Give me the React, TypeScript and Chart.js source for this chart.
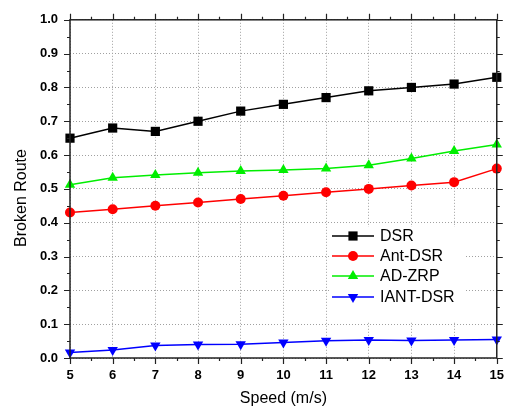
import React, { useEffect, useRef } from "react";
import { Chart, registerables } from "chart.js";

Chart.register(...registerables);

const speeds = [5, 6, 7, 8, 9, 10, 11, 12, 13, 14, 15];
const dsr = [0.65, 0.68, 0.67, 0.70, 0.73, 0.75, 0.77, 0.79, 0.80, 0.81, 0.83];
const antDsr = [0.43, 0.44, 0.45, 0.46, 0.47, 0.48, 0.49, 0.50, 0.51, 0.52, 0.56];
const adZrp = [0.512, 0.533, 0.541, 0.548, 0.553, 0.556, 0.560, 0.570, 0.590, 0.612, 0.631];
const iantDsr = [0.016, 0.024, 0.037, 0.040, 0.041, 0.046, 0.051, 0.053, 0.052, 0.053, 0.055];
const seriesNames = ["DSR", "Ant-DSR", "AD-ZRP", "IANT-DSR"];
const xTitle = "Speed (m/s)";
const yTitle = "Broken Route";

const FONT = "'Liberation Sans', Arial, sans-serif";

const colors = ["#000000", "#ff0000", "#00ee00", "#0000ff"];
const pointStyles = ["rect", "circle", "triangle", "triangle"];
const rotations = [0, 0, 0, 180];
const radii = [6.5, 5, 6, 6];

function marker(ctx: CanvasRenderingContext2D, i: number, x: number, y: number) {
  const r = radii[i];
  ctx.beginPath();
  if (pointStyles[i] === "rect") {
    const s = r * Math.SQRT1_2;
    ctx.rect(x - s, y - s, 2 * s, 2 * s);
  } else if (pointStyles[i] === "circle") {
    ctx.arc(x, y, r, 0, Math.PI * 2);
  } else {
    const dir = rotations[i] === 180 ? -1 : 1;
    const h = r * 0.5;
    const w = r * Math.sqrt(3) / 2;
    ctx.moveTo(x, y - dir * r);
    ctx.lineTo(x + w, y + dir * h);
    ctx.lineTo(x - w, y + dir * h);
    ctx.closePath();
  }
  ctx.fill();
}

const framePlugin = {
  id: "frame",
  afterDraw(chart: any) {
    const ctx = chart.ctx;
    const { left, right, top, bottom } = chart.chartArea;
    const xs = chart.scales.x;
    const ys = chart.scales.y;
    ctx.save();
    ctx.strokeStyle = "#222";
    ctx.lineWidth = 1.5;
    ctx.strokeRect(left, top, right - left, bottom - top);
    ctx.lineWidth = 1.2;
    ctx.beginPath();
    for (let k = 0; k <= 20; k++) {
      const v = 5 + k * 0.5;
      const px = Math.round(xs.getPixelForValue(v)) + 0.5;
      const len = k % 2 === 0 ? 6 : 3;
      ctx.moveTo(px, bottom);
      ctx.lineTo(px, bottom + len);
      ctx.moveTo(px, top);
      ctx.lineTo(px, top - len);
    }
    for (let i = 0; i <= 20; i++) {
      const v = i * 0.05;
      const py = Math.round(ys.getPixelForValue(v)) + 0.5;
      const len = i % 2 === 0 ? 6 : 3;
      ctx.moveTo(left, py);
      ctx.lineTo(left - len, py);
      ctx.moveTo(right, py);
      ctx.lineTo(right + len, py);
    }
    ctx.stroke();

    ctx.fillStyle = "#000";
    ctx.font = `16px ${FONT}`;
    ctx.textAlign = "center";
    ctx.textBaseline = "middle";
    ctx.fillText(xTitle, (left + right) / 2, 399);
    ctx.save();
    ctx.translate(22, 198);
    ctx.rotate(-Math.PI / 2);
    ctx.fillText(yTitle, 0, 0);
    ctx.restore();

    const bx = 330, by = 227, bw = 135, bh = 94;
    ctx.fillStyle = "#fff";
    ctx.fillRect(bx, by, bw, bh);
    const rowsY = [236, 256, 276, 297];
    chart.data.datasets.forEach((ds: any, i: number) => {
      const y = rowsY[i];
      ctx.strokeStyle = colors[i];
      ctx.lineWidth = 1.5;
      ctx.beginPath();
      ctx.moveTo(332, y);
      ctx.lineTo(374, y);
      ctx.stroke();
      ctx.fillStyle = colors[i];
      marker(ctx, i, 353, y);
      ctx.fillStyle = "#000";
      ctx.font = `16px ${FONT}`;
      ctx.textAlign = "left";
      ctx.textBaseline = "middle";
      ctx.fillText(ds.label, 380, y + 1);
    });
    ctx.restore();
  },
};

export default function App() {
  const ref = useRef<HTMLCanvasElement>(null);
  useEffect(() => {
    if (!ref.current) return;
    const all = [dsr, antDsr, adZrp, iantDsr];
    const chart = new Chart(ref.current, {
      type: "line",
      data: {
        datasets: all.map((vals, i) => ({
          label: seriesNames[i],
          data: speeds.map((s, j) => ({ x: s, y: vals[j] })),
          borderColor: colors[i],
          backgroundColor: colors[i],
          borderWidth: 1.5,
          pointStyle: pointStyles[i] as any,
          pointRotation: rotations[i],
          pointRadius: radii[i],
          pointBorderWidth: 0,
          pointBackgroundColor: colors[i],
          tension: 0,
          clip: false as any,
        })),
      },
      options: {
        responsive: false,
        animation: false,
        devicePixelRatio: 1,
        layout: { padding: { top: 16, right: 12, left: 0, bottom: 0 } },
        plugins: { legend: { display: false }, tooltip: { enabled: false } },
        scales: {
          x: {
            type: "linear",
            min: 5,
            max: 15,
            ticks: {
              stepSize: 1,
              padding: 10,
              color: "#000",
              font: { family: FONT, size: 13, weight: "bold" },
            },
            grid: { color: "#a0a0a0", lineWidth: 1, drawTicks: false },
            border: { display: false, dash: [1, 2] },
            afterFit: (s: any) => { s.height = 54; },
          },
          y: {
            min: 0,
            max: 1,
            ticks: {
              stepSize: 0.1,
              padding: 12,
              color: "#000",
              font: { family: FONT, size: 13, weight: "bold" },
              callback: (v: any) => Number(v).toFixed(1),
            },
            grid: { color: "#a0a0a0", lineWidth: 1, drawTicks: false },
            border: { display: false, dash: [1, 2] },
            afterFit: (s: any) => { s.width = 70; },
          },
        },
      },
      plugins: [framePlugin],
    });
    return () => chart.destroy();
  }, []);
  return (
    <div style={{ position: "fixed", left: 0, top: 0, width: 514, height: 412, background: "#fff" }}>
      <canvas ref={ref} width={514} height={412} />
    </div>
  );
}
